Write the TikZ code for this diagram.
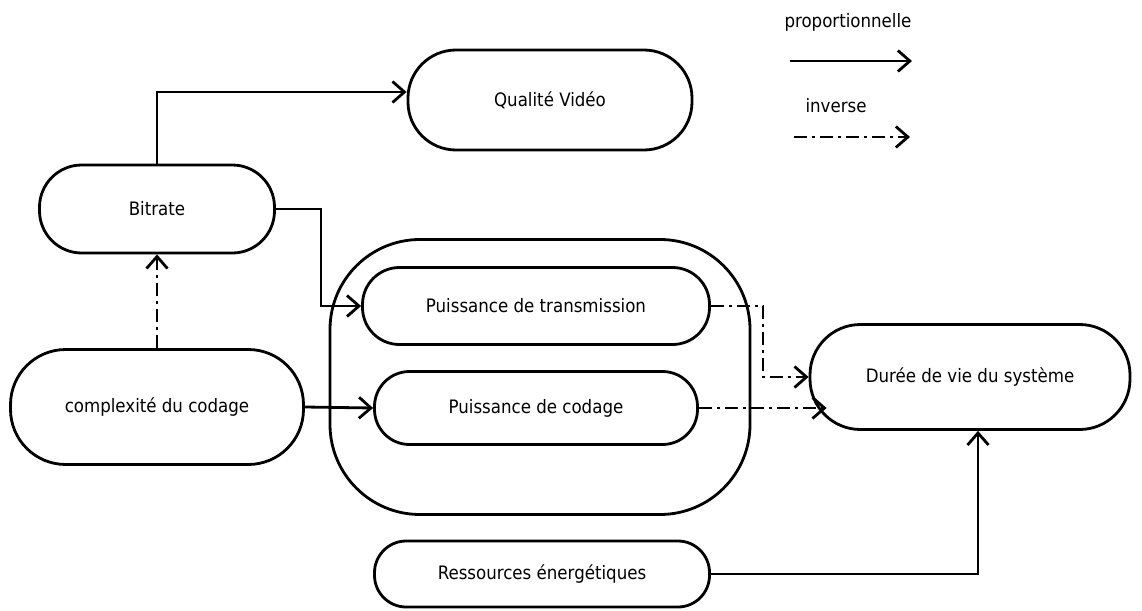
\documentclass[tikz,border=0pt]{standalone}
\usepackage{fontspec}
\setmainfont{DejaVu Sans Condensed}
\usetikzlibrary{arrows.meta,positioning}

\begin{document}
\begin{tikzpicture}[x=1pt, y=-1pt,
	font=\fontsize{18.5}{22}\selectfont,
	trait/.style={line width=2.8pt},
	bloc/.style={draw, trait, minimum height=#1pt, rounded corners=0.48*#1pt},
	fleche/.style={trait, -{Straight Barb[length=12pt, width=21pt, line width=2.8pt]}},
	pointille/.style={fleche, dash pattern=on 13pt off 5pt on 3pt off 5pt}]
	\useasboundingbox (0,0) rectangle (1142,610);

	% etats du systeme
	\node[bloc=100, minimum width=284pt] (qualite) at (550,100) {Qualité Vidéo};
	\node[bloc=88, minimum width=235pt] (bitrate) at (157,209) {Bitrate};
	\node[bloc=115, minimum width=293pt] (complexite) at (157,407) {complexité du codage};
	\node[draw, trait, rounded corners=90pt, minimum width=420pt, minimum height=275pt] (puissance) at (540,377) {};
	\node[bloc=77, minimum width=347pt] (transmission) at (536,306) {Puissance de transmission};
	\node[bloc=73, minimum width=323pt] (codage) at (536,408) {Puissance de codage};
	\node[bloc=105, minimum width=320pt] (duree) at (970,377) {Durée de vie du système};
	\node[bloc=66, minimum width=335pt] (ressources) at (542,574) {Ressources énergétiques};

	% legende
	\node (prop) at (848,22) {proportionnelle};
	\coordinate (p1) at (790,61);
	\coordinate (p2) at (912,61);
	\node (inv) at (836,106) {inverse};
	\coordinate (i1) at (794,137);
	\coordinate (i2) at (910,137);
	\draw[fleche] (p1) -- (p2);
	\draw[pointille] (i1) -- (i2);

	% liens
	\draw[fleche] (bitrate.north) |- ([yshift=8pt] qualite.west);
	\draw[fleche] (bitrate.east) -- ++(45,0) |- (transmission.west);
	\draw[pointille] (complexite.north) -- (bitrate.south);
	\draw[fleche] (complexite.east) -- (codage.west);
	\draw[pointille] (transmission.east) -- ++(52,0) |- (duree.west);
	\draw[pointille] (codage.east) -- ([xshift=18pt] codage.east -| duree.west);
	\draw[fleche] (ressources.east) -| ([xshift=8pt] duree.south);
\end{tikzpicture}
\end{document}
